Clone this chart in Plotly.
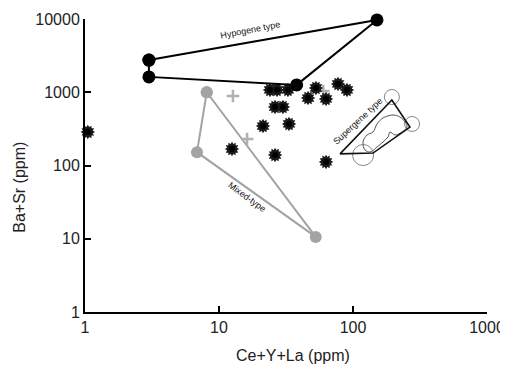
import plotly.graph_objects as go

# ---- data (ppm) ----
hypo_x = [3.0, 151, 38, 3.0, 3.0]
hypo_y = [2750, 9700, 1260, 1620, 2750]

mixed_x = [8.1, 6.85, 52.7, 8.1]
mixed_y = [1000, 152, 10.6, 1000]

fleur_x = [12.7, 16.2, 60]
fleur_y = [890, 230, 1040]

star_x = [24.0, 27.1, 32.7, 52.9, 77.3, 90.2, 46.2, 62.9, 26.2, 30.0, 21.3, 33.3, 12.5, 26.2, 62.9, 1.05]
star_y = [1074, 1074, 1074, 1143, 1297, 1074, 834, 809, 629, 629, 346, 369, 168, 139, 112, 287]

super_x = [80, 195, 266, 141, 80]
super_y = [144, 784, 335, 148, 144]

circle_x = [195, 276, 119]
circle_y = [861, 369, 139]
circle_size = [15, 15, 21]

cloud_x = [122.9, 118.8, 127.2, 141.1, 151.1, 167.5, 198.9, 224.2, 244.4, 252.9, 232.1, 205.8, 188.8, 182.5, 167.5, 151.1, 133.9, 122.9]
cloud_y = [162.8, 209.4, 260.9, 286.7, 368.6, 445.2, 489.2, 459.3, 392.6, 335.5, 286.7, 260.9, 286.7, 245.0, 209.4, 178.9, 152.9, 162.8]

x_ticks = [1, 10, 100, 1000]
y_ticks = [1, 10, 100, 1000, 10000]

FONT = "Liberation Sans, Arial, sans-serif"

fig = go.Figure()

# supergene field
fig.add_trace(go.Scatter(x=cloud_x, y=cloud_y, mode="lines",
                         line=dict(color="#555", width=1, shape="spline", smoothing=1.0),
                         hoverinfo="skip", cliponaxis=False))
fig.add_trace(go.Scatter(x=circle_x, y=circle_y, mode="markers",
                         marker=dict(symbol="circle-open", size=circle_size,
                                     color="#555", line=dict(width=1, color="#555")),
                         cliponaxis=False))
fig.add_trace(go.Scatter(x=super_x, y=super_y, mode="lines",
                         line=dict(color="#111", width=1.6), cliponaxis=False))

# mixed type
fig.add_trace(go.Scatter(x=mixed_x, y=mixed_y, mode="lines+markers",
                         line=dict(color="#a3a3a3", width=2),
                         marker=dict(symbol="circle", size=12, color="#a3a3a3"),
                         cliponaxis=False))
fig.add_trace(go.Scatter(x=fleur_x, y=fleur_y, mode="markers",
                         marker=dict(symbol="cross-thin-open", size=9, color="#b0b0b0",
                                     line=dict(width=2.5, color="#b0b0b0")),
                         cliponaxis=False))

# stars (samples)
fig.add_trace(go.Scatter(x=star_x, y=star_y, mode="markers",
                         marker=dict(symbol="hexagram", size=11, color="#1a1a1a", line=dict(width=0)),
                         cliponaxis=False))
fig.add_trace(go.Scatter(x=star_x, y=star_y, mode="markers",
                         marker=dict(symbol="hexagram", size=11, angle=30, color="#1a1a1a", line=dict(width=0)),
                         cliponaxis=False))
fig.add_trace(go.Scatter(x=star_x, y=star_y, mode="markers",
                         marker=dict(symbol="circle", size=6, color="#000"),
                         cliponaxis=False))

# hypogene type
fig.add_trace(go.Scatter(x=hypo_x, y=hypo_y, mode="lines+markers",
                         line=dict(color="#000", width=2),
                         marker=dict(symbol="circle", size=13, color="#000"),
                         cliponaxis=False))

axis_common = dict(type="log", showgrid=False, zeroline=False, showline=True,
                   linecolor="#000", linewidth=2, ticks="inside", ticklen=6,
                   tickwidth=2, tickcolor="#000", mirror=False, automargin=False,
                   tickfont=dict(family=FONT, size=16, color="#222"))

fig.update_xaxes(range=[0, 3], tickvals=x_ticks, ticktext=[str(v) for v in x_ticks], **axis_common)
fig.update_yaxes(range=[0, 4], tickvals=y_ticks, ticktext=[str(v) for v in y_ticks], **axis_common)

ann_font = dict(family=FONT, size=9, color="#111")
fig.update_layout(
    width=500, height=359,
    margin=dict(l=77, r=21, t=11, b=55, autoexpand=False),
    paper_bgcolor="white", plot_bgcolor="white",
    showlegend=False,
    annotations=[
        dict(text="Ce+Y+La (ppm)", xref="paper", yref="paper", x=0.517, y=-0.147,
             showarrow=False, font=dict(family=FONT, size=16, color="#222"),
             xanchor="center", yanchor="middle"),
        dict(text="Ba+Sr (ppm)", xref="paper", yref="paper", x=-0.162, y=0.427,
             showarrow=False, textangle=-90, font=dict(family=FONT, size=16, color="#222"),
             xanchor="center", yanchor="middle"),
        dict(text="Hypogene type", xref="paper", yref="paper",
             x=(250 - 85) / 402, y=(312 - 30) / 293, showarrow=False, textangle=-11,
             font=ann_font, xanchor="center", yanchor="middle"),
        dict(text="Mixed-type", xref="paper", yref="paper",
             x=(247 - 85) / 402, y=(312 - 197) / 293, showarrow=False, textangle=36,
             font=ann_font, xanchor="center", yanchor="middle"),
        dict(text="Supergene type", xref="paper", yref="paper",
             x=(358 - 85) / 402, y=(312 - 121) / 293, showarrow=False, textangle=-43,
             font=ann_font, xanchor="center", yanchor="middle"),
    ],
)

fig.write_html("out.html")
